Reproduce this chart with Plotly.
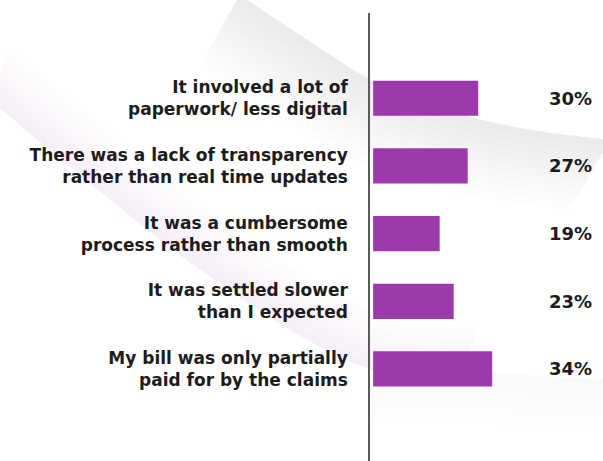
import plotly.graph_objects as go

# Survey answers and shares (%)
reasons = [
    "It involved a lot of<br>paperwork/ less digital",
    "There was a lack of transparency<br>rather than real time updates",
    "It was a cumbersome<br>process rather than smooth",
    "It was settled slower<br>than I expected",
    "My bill was only partially<br>paid for by the claims",
]
shares = [30, 27, 19, 23, 34]

W, H = 603, 461
ML, MR, MT, MB = 370, 11, 13, 0
PW, PH = W - ML - MR, H - MT - MB

BAR = "#9c3aab"
INK = "#1c1c1c"
FONT = "DejaVu Sans"


def px_to_paper(pts):
    return [((x - ML) / PW, 1 - (y - MT) / PH) for x, y in pts]


def path_of(pts):
    p = px_to_paper(pts)
    s = "M %.4f,%.4f " % p[0]
    s += " ".join("L %.4f,%.4f" % q for q in p[1:])
    return s + " Z"


def curve(pts, n=24):
    # Catmull-Rom smoothing through the control points
    out = []
    for i in range(len(pts) - 1):
        p0 = pts[i - 1] if i > 0 else pts[i]
        p1, p2 = pts[i], pts[i + 1]
        p3 = pts[i + 2] if i + 2 < len(pts) else pts[i + 1]
        for k in range(n):
            t = k / n
            t2, t3 = t * t, t * t * t
            x = 0.5 * ((2 * p1[0]) + (-p0[0] + p2[0]) * t
                       + (2 * p0[0] - 5 * p1[0] + 4 * p2[0] - p3[0]) * t2
                       + (-p0[0] + 3 * p1[0] - 3 * p2[0] + p3[0]) * t3)
            y = 0.5 * ((2 * p1[1]) + (-p0[1] + p2[1]) * t
                       + (2 * p0[1] - 5 * p1[1] + 4 * p2[1] - p3[1]) * t2
                       + (-p0[1] + 3 * p1[1] - 3 * p2[1] + p3[1]) * t3)
            out.append((x, y))
    out.append(pts[-1])
    return out


def soft_band(ctrl, dx, dy, depth, color, steps, alpha):
    # stacked translucent strips: darkest at the edge, fading over `depth` px
    edge = curve(ctrl)
    out = []
    for i in range(1, steps + 1):
        off = depth * i / steps
        inner = [(x + dx * off, y + dy * off) for x, y in reversed(edge)]
        out.append(dict(type="path", xref="paper", yref="paper", layer="below",
                        path=path_of(edge + inner), fillcolor=color,
                        opacity=alpha, line=dict(width=0)))
    return out


shapes = []
# upper swoosh edge, fading toward the lower left
shapes += soft_band([(240, -5), (300, 35), (370, 79), (440, 108), (520, 128), (610, 140)],
                    -0.5, 0.87, 80, "#cdc6db", 10, 0.045)
# left diagonal edge, fading upward
shapes += soft_band([(-10, 100), (80, 175), (180, 255), (290, 330), (380, 372), (460, 378)],
                    0.35, -0.94, 55, "#d3cedd", 8, 0.03)
# right lower edge, fading downward
shapes += soft_band([(380, 372), (470, 372), (540, 376), (610, 380)],
                    -0.2, 1.0, 50, "#d6d2df", 6, 0.03)

fig = go.Figure(go.Bar(
    x=shares, y=reasons, orientation="h", marker=dict(color=BAR, line=dict(width=0)),
    width=0.52, hoverinfo="skip",
))

for r, v in zip(reasons, shares):
    fig.add_annotation(x=1, xref="paper", y=r, yref="y", text=f"{v}%", showarrow=False,
                       xanchor="right", yanchor="middle", xshift=2,
                       font=dict(family=FONT, size=18, color=INK, weight=700))

fig.update_layout(
    width=W, height=H, margin=dict(l=ML, r=MR, t=MT, b=MB),
    paper_bgcolor="white", plot_bgcolor="rgba(0,0,0,0)",
    showlegend=False, shapes=shapes,
    xaxis=dict(range=[-0.9, 62.5], visible=False, fixedrange=True),
    yaxis=dict(categoryorder="array", categoryarray=reasons, range=[5.36, -1.26],
               showline=True, linecolor="#5a5a5a", linewidth=1.5, ticks="",
               showgrid=False, zeroline=False, ticklabelstandoff=17,
               tickfont=dict(family=FONT, size=17, color=INK, weight=700)),
)

fig.write_html("out.html")
